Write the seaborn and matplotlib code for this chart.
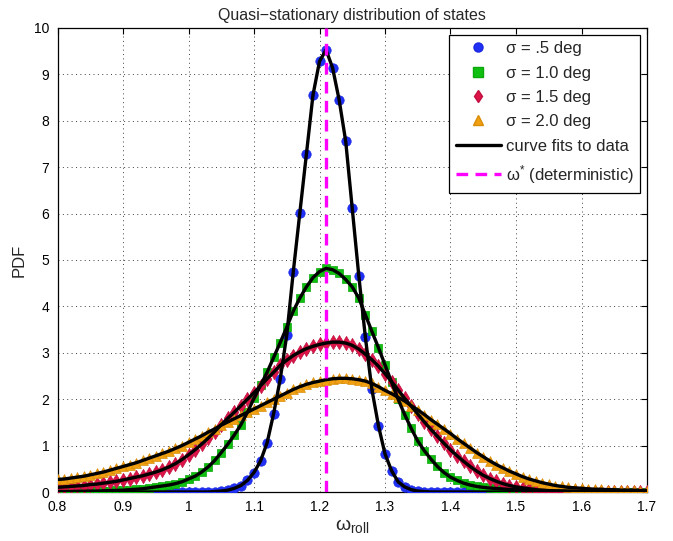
import numpy as np
import pandas as pd
import matplotlib
matplotlib.use("Agg")
import matplotlib.pyplot as plt
from matplotlib.lines import Line2D
import seaborn as sns

# ---------------- data ----------------
omega = np.round(np.arange(0.80, 1.7001, 0.01), 2)   # roll-rate grid 0.80 ... 1.70

pdf_s05 = [0, 0, 0, 0, 0, 0, 0, 0, 0, 0,
           0, 0, 0, 0, 0, 0, 0, 0, 0, 0,
           0, 0, 0, 0, 0.01, 0.02, 0.04, 0.08, 0.14, 0.25,
           0.42, 0.67, 1.06, 1.69, 2.43, 3.38, 4.75, 6.02, 7.28, 8.55,
           9.28, 9.53, 9.14, 8.45, 7.56, 6.11, 4.66, 3.34, 2.21, 1.43,
           0.82, 0.46, 0.22, 0.11, 0.05, 0.02, 0.01, 0, 0, 0,
           0, 0, 0, 0, 0, 0, 0, 0, 0, 0,
           0, 0, 0, 0, 0, 0, 0, 0, 0, 0,
           0, 0, 0, 0, 0, 0, 0, 0, 0, 0,
           0]

pdf_s10 = [0.01, 0.01, 0.01, 0.015, 0.015, 0.02, 0.02, 0.025, 0.03, 0.035,
           0.04, 0.05, 0.06, 0.07, 0.09, 0.11, 0.13, 0.15, 0.18, 0.22,
           0.28, 0.34, 0.43, 0.54, 0.68, 0.85, 1.03, 1.23, 1.45, 1.72,
           2.02, 2.30, 2.58, 2.90, 3.22, 3.55, 3.90, 4.18, 4.42, 4.62,
           4.75, 4.82, 4.79, 4.71, 4.58, 4.42, 4.18, 3.82, 3.46, 3.11,
           2.74, 2.37, 2.00, 1.67, 1.37, 1.10, 0.89, 0.71, 0.55, 0.42,
           0.32, 0.25, 0.19, 0.15, 0.12, 0.10, 0.085, 0.075, 0.065, 0.055,
           0.05, 0.045, 0.04, 0.035, 0.03, 0.025, 0.02, 0.02, 0.015, 0.015,
           0.01, 0.01, 0.01, 0.01, 0.01, 0.005, 0.005, 0.005, 0.005, 0.005,
           0.005]

pdf_s15 = [0.10, 0.11, 0.12, 0.13, 0.14, 0.16, 0.17, 0.19, 0.21, 0.23,
           0.26, 0.29, 0.32, 0.35, 0.39, 0.43, 0.48, 0.54, 0.61, 0.70,
           0.80, 0.91, 1.03, 1.16, 1.30, 1.45, 1.59, 1.72, 1.86, 2.00,
           2.14, 2.29, 2.44, 2.58, 2.73, 2.84, 2.94, 3.02, 3.09, 3.14,
           3.18, 3.21, 3.23, 3.23, 3.21, 3.16, 3.08, 2.97, 2.85, 2.71,
           2.55, 2.38, 2.20, 2.02, 1.85, 1.68, 1.51, 1.35, 1.20, 1.05,
           0.91, 0.78, 0.66, 0.55, 0.45, 0.36, 0.29, 0.23, 0.18, 0.14,
           0.11, 0.09, 0.07, 0.05, 0.04, 0.03, 0.025, 0.02, 0.02, 0.015,
           0.015, 0.01, 0.01, 0.01, 0.01, 0.01, 0.01, 0.005, 0.005, 0.005,
           0.005]

pdf_s20 = [0.27, 0.28, 0.30, 0.32, 0.34, 0.37, 0.40, 0.43, 0.47, 0.51,
           0.55, 0.59, 0.63, 0.68, 0.73, 0.78, 0.83, 0.88, 0.94, 1.00,
           1.07, 1.14, 1.21, 1.29, 1.36, 1.44, 1.51, 1.58, 1.65, 1.72,
           1.79, 1.86, 1.93, 2.00, 2.07, 2.14, 2.21, 2.27, 2.32, 2.36,
           2.39, 2.42, 2.44, 2.45, 2.45, 2.44, 2.42, 2.39, 2.34, 2.27,
           2.19, 2.12, 2.04, 1.96, 1.86, 1.77, 1.67, 1.56, 1.46, 1.36,
           1.26, 1.15, 1.05, 0.95, 0.85, 0.76, 0.67, 0.59, 0.52, 0.45,
           0.39, 0.33, 0.28, 0.24, 0.20, 0.17, 0.14, 0.12, 0.10, 0.09,
           0.08, 0.07, 0.06, 0.06, 0.05, 0.05, 0.04, 0.04, 0.04, 0.03,
           0.03]

omega_star = 1.21

series_labels = ["\u03c3 = .5 deg", "\u03c3 = 1.0 deg", "\u03c3 = 1.5 deg", "\u03c3 = 2.0 deg"]
fit_label = "curve fits to data"
star_label = "\u03c9$^{*}$ (deterministic)"
x_ticks = [0.8, 0.9, 1.0, 1.1, 1.2, 1.3, 1.4, 1.5, 1.6, 1.7]
x_ticklabels = ["0.8", "0.9", "1", "1.1", "1.2", "1.3", "1.4", "1.5", "1.6", "1.7"]
y_ticks = [0, 1, 2, 3, 4, 5, 6, 7, 8, 9, 10]

# ---------------- styling ----------------
sns.set_style("white")
plt.rcParams["font.family"] = ["Liberation Sans", "DejaVu Sans"]
plt.rcParams["mathtext.fontset"] = "custom"
plt.rcParams["mathtext.rm"] = "Liberation Sans"
plt.rcParams["mathtext.it"] = "Liberation Sans"

colors = ["#2030f5", "#10c010", "#dc1448", "#f0a010"]
edgecolors = ["#1a28e0", "#0aa80a", "#c01040", "#d88c08"]
markers = ["o", "s", "d", "^"]
sizes = [46, 36, 52, 50]

df = pd.DataFrame({
    "omega": np.tile(omega, 4),
    "pdf": np.concatenate([pdf_s05, pdf_s10, pdf_s15, pdf_s20]),
    "series": np.repeat(series_labels, len(omega)),
})

fig = plt.figure(figsize=(6.73, 5.41), dpi=100)
ax = fig.add_axes([57.5 / 673, 1 - 492 / 541, (647 - 57.5) / 673, (492 - 28) / 541])

for lab, c, ec, m, s in zip(series_labels, colors, edgecolors, markers, sizes):
    sub = df[df["series"] == lab]
    sns.scatterplot(data=sub, x="omega", y="pdf", marker=m, s=s, color=c,
                    edgecolor=ec, linewidth=0.5, ax=ax, zorder=3, legend=False)

for lab in series_labels:
    sub = df[df["series"] == lab]
    sns.lineplot(data=sub, x="omega", y="pdf", color="black", linewidth=2.4,
                 estimator=None, sort=True, ax=ax, zorder=4, legend=False)

ax.axvline(omega_star, color="#ff00ff", linestyle=(0, (3.5, 2.2)), linewidth=2.4, zorder=5)

ax.set_xlim(0.8, 1.7)
ax.set_ylim(0, 10)
ax.set_xticks(x_ticks)
ax.set_xticklabels(x_ticklabels)
ax.set_yticks(y_ticks)
ax.tick_params(direction="in", top=True, right=True, length=4, width=0.8,
               labelsize=10, colors="black")
ax.tick_params(axis="x", pad=6)
ax.tick_params(axis="y", pad=6)
ax.grid(True, linestyle=(0, (1, 3.5)), color="0.25", linewidth=0.7)
for sp in ax.spines.values():
    sp.set_visible(True)
    sp.set_color("black")
    sp.set_linewidth(0.9)

ax.set_title("Quasi\u2212stationary distribution of states", fontsize=11.5, pad=6)
ax.set_xlabel("\u03c9$_{\\mathrm{roll}}$", fontsize=14, labelpad=2)
ax.set_ylabel("PDF", fontsize=12, labelpad=5)

handles = []
for c, ec, m in zip(colors, edgecolors, markers):
    handles.append(Line2D([], [], marker=m, linestyle="none", markerfacecolor=c,
                          markeredgecolor=ec, markersize=6.5))
handles.append(Line2D([], [], color="black", linewidth=2.4))
handles.append(Line2D([], [], color="#ff00ff", linewidth=2.4, linestyle=(0, (3.5, 2.2))))
leg = ax.legend(handles, series_labels + [fit_label, star_label], loc="upper right",
                fontsize=12, frameon=True, fancybox=False, framealpha=1,
                edgecolor="black", labelspacing=0.56, handlelength=2.7,
                handletextpad=0.3, borderpad=0.4, borderaxespad=0.4)
leg.get_frame().set_linewidth(0.9)

fig.savefig("out.png", dpi=100)
